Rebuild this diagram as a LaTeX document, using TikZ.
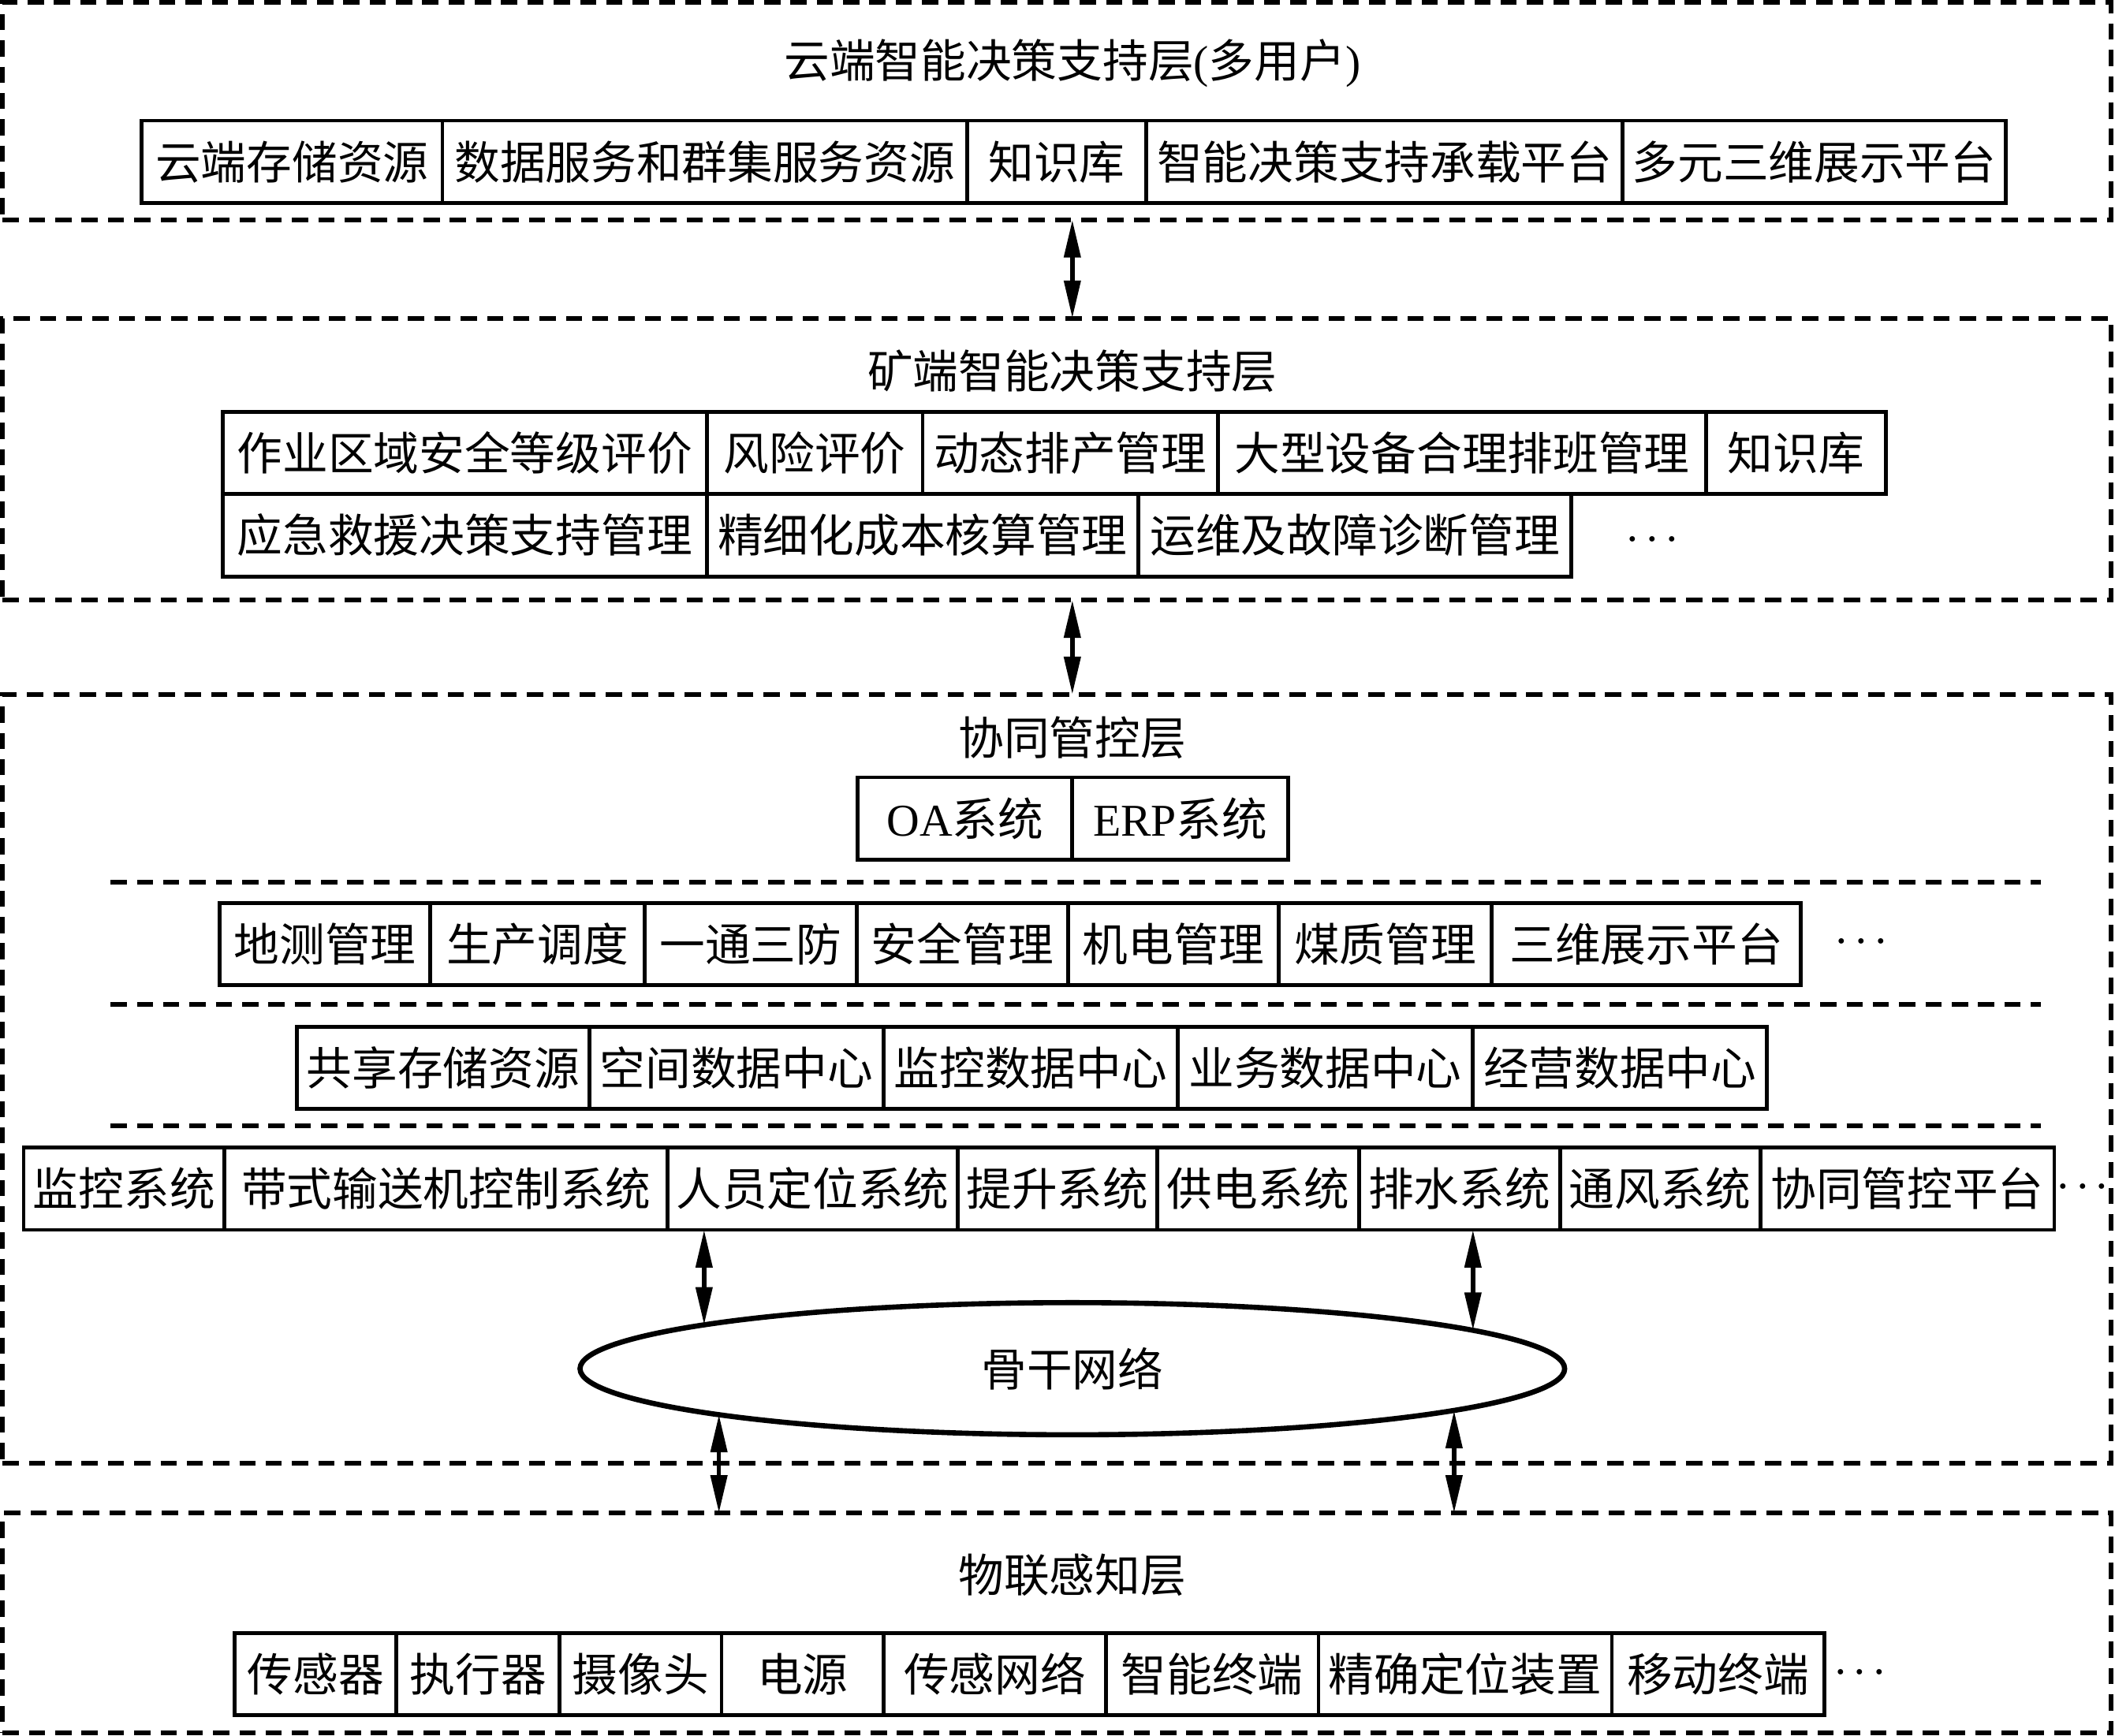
\documentclass[tikz,border=0pt]{standalone}
\usepackage{fontspec}
\setmainfont{Liberation Serif}
\newfontfamily\cjk{Noto Sans CJK SC}
\usetikzlibrary{positioning}
\usetikzlibrary{arrows.meta,shapes.geometric}

\begin{document}
\begin{tikzpicture}[x=0.1mm, y=-0.1mm,
layernode/.style={rectangle, draw=black, line width=1pt, dash pattern=on 1.2mm off 0.75mm, minimum width=156.3mm, inner sep=0pt, outer sep=0pt},
cellnode/.style={rectangle, draw=black, line width=0.8pt, minimum height=6.1mm, inner sep=0pt, outer sep=0pt, font=\cjk\fontsize{9.6}{11}\selectfont},
titlenode/.style={inner sep=0pt, font=\cjk\fontsize{9.6}{11}\selectfont},
dotsnode/.style={inner sep=0pt, font=\fontsize{7.5}{8}\selectfont\boldmath},
netnode/.style={ellipse, draw=black, line width=1.1pt, minimum width=73mm, minimum height=9.8mm, inner sep=0pt, outer sep=0pt, font=\cjk\fontsize{9.6}{11}\selectfont},
sepline/.style={line width=1pt, dash pattern=on 1.2mm off 0.75mm},
biarrow/.style={{Triangle[length=2.8mm,width=1.2mm]}-{Triangle[length=2.8mm,width=1.2mm]}, line width=0.9pt},
]
\useasboundingbox (0,0) rectangle (1568,1287);
%Layers
\node[layernode, minimum height=16.1mm] (cloud) at (783.5,82.5)  {};
\node[layernode, minimum height=20.9mm] (mine)  at (783.5,340.5) {};
\node[layernode, minimum height=57mm]   (coop)  at (783.5,800)   {};
\node[layernode, minimum height=16.3mm] (iot)   at (783.5,1203.5) {};
%Titles
\node[titlenode] (ctitle) at (795,47)   {云端智能决策支持层{\rmfamily (}多用户{\rmfamily )}};
\node[titlenode] (mtitle) at (795,275)  {矿端智能决策支持层};
\node[titlenode] (ptitle) at (795,547)  {协同管控层};
\node[titlenode] (ititle) at (795,1168) {物联感知层};
%Cloud layer
\node[cellnode, minimum width=22.3mm, anchor=west] (cstore) at (105,120) {云端存储资源};
\node[cellnode, minimum width=38.9mm]  (cdata)  [right=0pt of cstore] {数据服务和群集服务资源};
\node[cellnode, minimum width=13.3mm]  (cknow)  [right=0pt of cdata]  {知识库};
\node[cellnode, minimum width=35.3mm]  (cplat)  [right=0pt of cknow]  {智能决策支持承载平台};
\node[cellnode, minimum width=28.4mm]  (cshow)  [right=0pt of cplat]  {多元三维展示平台};
%Mine layer
\node[cellnode, minimum width=35.9mm, anchor=west] (mzone) at (165,336) {作业区域安全等级评价};
\node[cellnode, minimum width=16.0mm]  (mrisk)  [right=0pt of mzone]  {风险评价};
\node[cellnode, minimum width=21.9mm]  (mplan)  [right=0pt of mrisk]  {动态排产管理};
\node[cellnode, minimum width=36.2mm]  (mshift) [right=0pt of mplan]  {大型设备合理排班管理};
\node[cellnode, minimum width=13.3mm]  (mknow)  [right=0pt of mshift] {知识库};
\node[cellnode, minimum width=35.9mm]  (mrescue) [below=0pt of mzone] {应急救援决策支持管理};
\node[cellnode, minimum width=32.0mm]  (mcost)  [right=0pt of mrescue] {精细化成本核算管理};
\node[cellnode, minimum width=32.1mm]  (mfault) [right=0pt of mcost]  {运维及故障诊断管理};
\node[dotsnode] (mdots) at (1225,400) {$\cdots$};
%Cooperative layer
\node[cellnode, minimum width=15.9mm, anchor=west] (oa) at (636,607) {{\rmfamily OA}系统};
\node[cellnode, minimum width=16.0mm]  (erp)    [right=0pt of oa]     {{\rmfamily ERP}系统};
\node[cellnode, minimum width=15.6mm, anchor=west] (survey) at (163,700) {地测管理};
\node[cellnode, minimum width=15.9mm]  (dispatch) [right=0pt of survey]   {生产调度};
\node[cellnode, minimum width=15.7mm]  (prevent)  [right=0pt of dispatch] {一通三防};
\node[cellnode, minimum width=15.7mm]  (safety)   [right=0pt of prevent]  {安全管理};
\node[cellnode, minimum width=15.6mm]  (mech)     [right=0pt of safety]   {机电管理};
\node[cellnode, minimum width=15.8mm]  (coal)     [right=0pt of mech]     {煤质管理};
\node[cellnode, minimum width=22.9mm]  (view)     [right=0pt of coal]     {三维展示平台};
\node[dotsnode] (pdots) at (1380,698) {$\cdots$};
\node[cellnode, minimum width=21.7mm, anchor=west] (share) at (220,792) {共享存储资源};
\node[cellnode, minimum width=21.8mm]  (space)    [right=0pt of share]    {空间数据中心};
\node[cellnode, minimum width=21.8mm]  (monitor)  [right=0pt of space]    {监控数据中心};
\node[cellnode, minimum width=21.9mm]  (business) [right=0pt of monitor]  {业务数据中心};
\node[cellnode, minimum width=21.8mm]  (operate)  [right=0pt of business] {经营数据中心};
\node[cellnode, minimum width=14.9mm, anchor=west] (watch) at (17.5,881.5) {监控系统};
\node[cellnode, minimum width=32.85mm] (belt)     [right=0pt of watch]    {带式输送机控制系统};
\node[cellnode, minimum width=21.5mm]  (person)   [right=0pt of belt]     {人员定位系统};
\node[cellnode, minimum width=14.8mm]  (hoist)    [right=0pt of person]   {提升系统};
\node[cellnode, minimum width=14.95mm] (power)    [right=0pt of hoist]    {供电系统};
\node[cellnode, minimum width=14.9mm]  (drain)    [right=0pt of power]    {排水系统};
\node[cellnode, minimum width=14.85mm] (vent)     [right=0pt of drain]    {通风系统};
\node[cellnode, minimum width=21.8mm]  (platform) [right=0pt of vent]     {协同管控平台};
\node[dotsnode] (sdots) at (1544,880) {$\cdots$};
\node[netnode] (net) at (795,1015) {骨干网络};
%Sensing layer
\node[cellnode, minimum width=12.0mm, anchor=west] (sensor) at (174,1241.5) {传感器};
\node[cellnode, minimum width=12.1mm]  (actuator) [right=0pt of sensor]   {执行器};
\node[cellnode, minimum width=12.0mm]  (camera)   [right=0pt of actuator] {摄像头};
\node[cellnode, minimum width=12.0mm]  (supply)   [right=0pt of camera]   {电源};
\node[cellnode, minimum width=16.5mm]  (sensnet)  [right=0pt of supply]   {传感网络};
\node[cellnode, minimum width=15.75mm] (smart)    [right=0pt of sensnet]  {智能终端};
\node[cellnode, minimum width=21.75mm] (locate)   [right=0pt of smart]    {精确定位装置};
\node[cellnode, minimum width=15.75mm] (mobile)   [right=0pt of locate]   {移动终端};
\node[dotsnode] (idots) at (1379,1240) {$\cdots$};
%Points on the ellipse
\coordinate (netul) at (522,982.5);
\coordinate (netur) at (1092,986.5);
\coordinate (netll) at (533,1049);
\coordinate (netlr) at (1078,1046);
%Separators
\draw[sepline] (82,654) -- (1513,654);
\draw[sepline] (82,745) -- (1513,745);
\draw[sepline] (82,835) -- (1513,835);
%Lines
\draw[biarrow] (cloud.south -| ctitle) -- (mine.north -| ctitle);
\draw[biarrow] (mine.south -| ctitle) -- (coop.north -| ctitle);
\draw[biarrow] (person.south -| netul) -- (netul);
\draw[biarrow] (drain.south -| netur) -- (netur);
\draw[biarrow] (netll) -- (netll |- iot.north);
\draw[biarrow] (netlr) -- (netlr |- iot.north);
\end{tikzpicture}
\end{document}
